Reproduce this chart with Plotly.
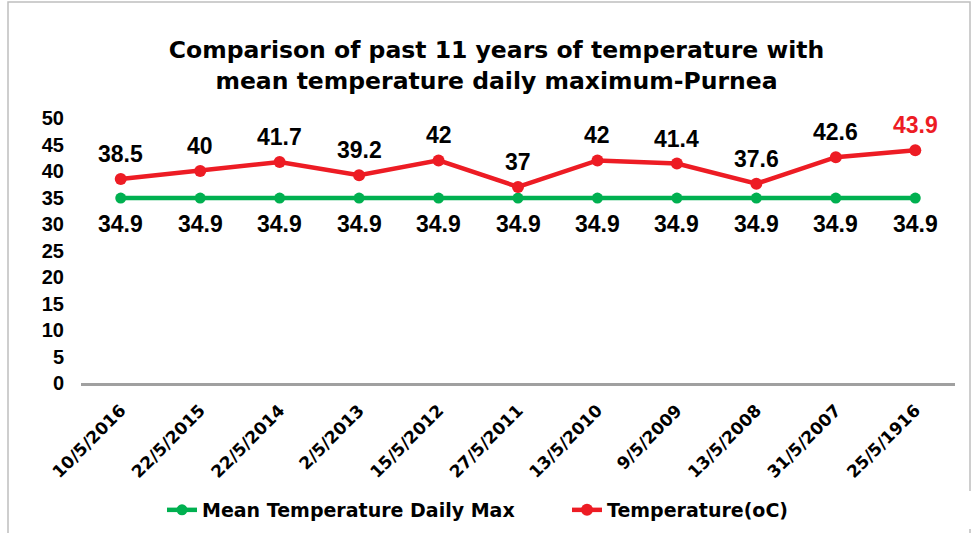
import plotly.graph_objects as go

dates = ["10/5/2016", "22/5/2015", "22/5/2014", "2/5/2013", "15/5/2012", "27/5/2011",
         "13/5/2010", "9/5/2009", "13/5/2008", "31/5/2007", "25/5/1916"]
mean_max = [34.9] * 11
temperature = [38.5, 40, 41.7, 39.2, 42, 37, 42, 41.4, 37.6, 42.6, 43.9]

ARIAL = "Liberation Sans, Arial, sans-serif"
WIDE = "DejaVu Sans, Verdana, sans-serif"
GREEN = "#00B050"
RED = "#ED1C24"

fig = go.Figure()
fig.add_trace(go.Scatter(
    x=dates, y=mean_max, name="Mean Temperature Daily Max",
    mode="lines+markers",
    line=dict(color=GREEN, width=4.5), marker=dict(color=GREEN, size=11),
    cliponaxis=False,
))
fig.add_trace(go.Scatter(
    x=dates, y=temperature, name="Temperature(oC)",
    mode="lines+markers",
    line=dict(color=RED, width=4.5), marker=dict(color=RED, size=12),
    cliponaxis=False,
))

annotations = []
for d, v in zip(dates, mean_max):
    annotations.append(dict(x=d, y=v, xref="x", yref="y", text=f"{v:g}", showarrow=False,
                            yshift=-26, font=dict(family=ARIAL, size=23, color="black", weight="bold")))
for i, (d, v) in enumerate(zip(dates, temperature)):
    annotations.append(dict(x=d, y=v, xref="x", yref="y", text=f"{v:g}", showarrow=False,
                            yshift=25, font=dict(family=ARIAL, size=23, weight="bold",
                                                 color=RED if i == len(dates) - 1 else "black")))

W, H = 974, 533
L, R, T, B = 81, 19, 118, 150
pw, ph = W - L - R, H - T - B

def px(x):
    return (x - L) / pw

def py(y):
    return (H - B - y) / ph

fig.update_layout(
    width=W, height=H,
    margin=dict(l=L, r=R, t=T, b=B, autoexpand=False),
    paper_bgcolor="white", plot_bgcolor="white",
    title=dict(text="Comparison of past 11 years of temperature with<br>mean temperature daily maximum-Purnea",
               x=px(496.5), xref="paper", xanchor="center", y=1 - 58 / H, yanchor="middle",
               font=dict(family=WIDE, size=23.5, color="black", weight="bold")),
    showlegend=True,
    legend=dict(orientation="h", x=px(567), xanchor="center", y=py(510), yanchor="middle",
                font=dict(family=WIDE, size=19, color="black", weight="bold"),
                tracegroupgap=0, entrywidth=360),
    xaxis=dict(type="category", range=[-0.5, 10.5], showgrid=False,
               showline=True, linecolor="#A0A0A0", linewidth=2.7,
               tickangle=-45, ticks="", ticklabelstandoff=8,
               tickfont=dict(family=WIDE, size=17, color="black", weight="bold")),
    yaxis=dict(range=[0, 50], dtick=5, showgrid=False, showline=False, zeroline=False,
               ticks="", ticklabelstandoff=16,
               tickfont=dict(family=ARIAL, size=20, color="black", weight="bold")),
    annotations=annotations,
    shapes=[dict(type="rect", xref="paper", yref="paper",
                 x0=px(8), x1=px(970), y0=py(545), y1=py(2),
                 line=dict(color="#BFBFBF", width=1.5), fillcolor="rgba(0,0,0,0)",
                 layer="below")],
)

fig.write_html("out.html", config={"displayModeBar": False},
               post_script="document.body.style.margin='0';")
